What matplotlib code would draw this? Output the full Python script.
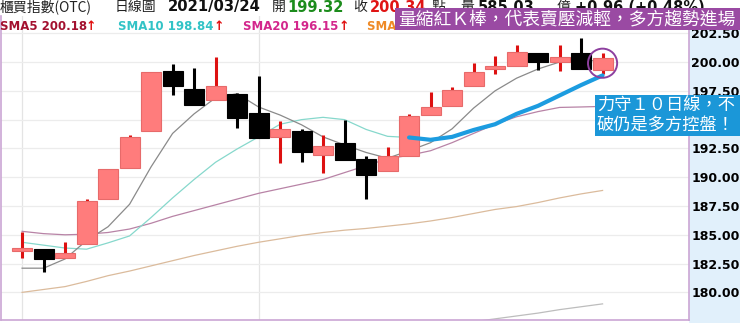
import matplotlib.pyplot as plt
from matplotlib.patches import Rectangle
import numpy as np

# Figure size in pixels
W, H = 740, 323

# Daily OHLC (index 0 .. 27, last bar = 2021/03/24)
opens = [183.6, 183.74, 183.0, 184.2, 188.1, 190.8, 194.0, 199.2, 197.7, 196.7,
         197.2, 195.6, 193.5, 194.0, 191.9, 193.0, 191.6, 190.5, 191.85, 195.4,
         196.2, 197.9, 199.4, 199.7, 200.8, 200.0, 200.8, 199.32]
highs = [185.2, 183.74, 184.35, 188.15, 190.7, 193.65, 199.1, 199.8, 199.5, 200.4,
         197.3, 198.8, 194.9, 194.2, 193.65, 195.0, 191.8, 192.6, 195.5, 197.4,
         197.8, 199.9, 200.55, 201.5, 200.8, 201.5, 202.06, 200.8]
lows = [183.0, 181.8, 183.0, 184.2, 188.1, 190.8, 194.0, 197.1, 196.3, 196.7,
        194.3, 193.4, 191.2, 191.3, 190.4, 191.5, 188.1, 190.5, 191.85, 195.4,
        196.2, 197.9, 199.0, 199.7, 199.3, 199.25, 199.4, 199.0]
closes = [183.7, 182.87, 183.4, 187.9, 190.7, 193.5, 199.1, 197.9, 196.3, 197.9,
          195.1, 193.4, 194.2, 192.15, 192.7, 191.5, 190.2, 191.8, 195.33, 196.06,
          197.6, 199.16, 199.5, 200.9, 200.0, 200.4, 199.4, 200.34]

# Moving average lines
sma5 = [182.1, 182.1, 182.9, 184.5, 185.7, 187.65, 190.9, 193.8, 195.5, 196.9,
        197.25, 196.1, 195.4, 194.55, 193.5, 192.8, 192.15, 191.65, 192.3, 193.0,
        194.2, 196.0, 197.5, 198.6, 199.4, 200.0, 200.05, 200.18]
sma10 = [184.35, 184.1, 183.85, 183.75, 184.3, 184.9, 186.5, 188.2, 189.8, 191.3,
         192.45, 193.5, 194.6, 195.0, 195.2, 195.0, 194.15, 193.55, 193.45, 193.25,
         193.5, 194.1, 194.6, 195.5, 196.2, 197.1, 198.0, 198.84]
sma20 = [185.3, 185.1, 185.0, 185.05, 185.2, 185.5, 186.0, 186.6, 187.1, 187.6,
         188.1, 188.6, 189.0, 189.4, 189.8, 190.4, 191.0, 191.6, 191.9, 192.3,
         193.0, 193.8, 194.6, 195.25, 195.7, 196.06, 196.1, 196.15]
sma60 = [180.0, 180.25, 180.5, 180.95, 181.45, 181.85, 182.3, 182.75, 183.2, 183.6,
         184.0, 184.35, 184.65, 184.95, 185.2, 185.4, 185.55, 185.75, 185.95, 186.2,
         186.5, 186.85, 187.2, 187.45, 187.8, 188.2, 188.55, 188.85]
sma120_start = 21
sma120 = [177.45, 177.7, 177.95, 178.2, 178.5, 178.75, 179.0]

y_ticks = [180.0, 182.5, 185.0, 187.5, 190.0, 192.5, 195.0, 197.5, 200.0, 202.5]
month_starts = [0, 11]

RED_FACE = "#ff7c7c"
RED_EDGE = "#e76a6a"
RED_WICK = "#dd1111"

fig = plt.figure(figsize=(W / 100, H / 100), dpi=100)

# light blue price column on the right (behind the axes)
fig.patches.append(Rectangle((689 / W, 0), 51 / W, 1 - 16 / H, transform=fig.transFigure,
                             facecolor="#e1f0fb", edgecolor="none", zorder=-1))

ax = fig.add_axes([1 / W, 3 / H, 688 / W, 304 / H])
x = np.arange(len(closes))

# grid
ax.set_axisbelow(True)
ax.set_yticks(y_ticks)
ax.yaxis.set_major_formatter(plt.FuncFormatter(lambda v, p: f"{v:.2f}"))
ax.grid(axis="y", color="#ececec", lw=0.9)
for m in month_starts:
    ax.axvline(m, color="#e4e4e4", lw=0.9, zorder=0)

# moving averages (under the candles)
ax.plot(x, sma60, color="#dbbb9c", lw=0.9, zorder=1.5)
ax.plot(x[sma120_start:], sma120, color="#bdbdbd", lw=0.9, zorder=1.5)
ax.plot(x, sma20, color="#b883a6", lw=0.9, zorder=1.6)
ax.plot(x, sma10, color="#86d8cc", lw=0.9, zorder=1.7)
ax.plot(x, sma5, color="#8a8a8a", lw=0.9, zorder=1.8)

# candles
up = np.array(closes) >= np.array(opens)
for i in range(len(closes)):
    lo_b = min(opens[i], closes[i])
    hi_b = max(opens[i], closes[i])
    h = max(hi_b - lo_b, 0.22)
    if up[i]:
        ax.vlines(i, lows[i], highs[i], color=RED_WICK, lw=2.2, zorder=2)
        ax.bar(i, h, bottom=lo_b, width=0.93, color=RED_FACE, edgecolor=RED_EDGE,
               lw=0.8, zorder=3)
    else:
        ax.vlines(i, lows[i], highs[i], color="black", lw=2.2, zorder=2)
        ax.bar(i, h, bottom=lo_b, width=0.93, color="black", edgecolor="black",
               lw=0.8, zorder=3)

# annotation: thick blue line along SMA10 and circle on last bar
ax.plot(x[18:], sma10[18:], color="#1c9ce0", lw=3.0, solid_capstyle="round", zorder=5)
ax.scatter([x[-1]], [(highs[-1] + lows[-1]) / 2], s=440, facecolors="none",
           edgecolors="#8d3f9f", linewidths=1.4, zorder=6)

ax.set_xlim(-0.98, 31.02)
ax.set_ylim(177.6, 204.0)
ax.set_xticks([])
ax.yaxis.tick_right()
ax.tick_params(axis="y", length=0, pad=1.5, labelsize=9, labelcolor="black")
for lab in ax.yaxis.get_ticklabels(which="major") + [t.label2 for t in ax.yaxis.get_major_ticks()]:
    lab.set_fontweight("bold")
for s in ["left", "right", "bottom"]:
    ax.spines[s].set_color("#cba6d4")
    ax.spines[s].set_linewidth(1.2)
ax.spines["top"].set_visible(False)

# header row 1
cjk = ["Noto Sans CJK TC", "DejaVu Sans"]


def top_text(px, py, s, **kw):
    fig.text(px / W, 1 - py / H, s, va="center", ha="left", **kw)


top_text(0, 7, "櫃買指數(OTC)", family=cjk, fontsize=10, color="#222222")
top_text(115, 7, "日線圖", family=cjk, fontsize=10, color="#222222")
top_text(168, 7, "2021/03/24", fontsize=10.6, fontweight="bold", color="#111111")
top_text(272, 7, "開", family=cjk, fontsize=10, color="#222222")
top_text(287, 7, "199.32", fontsize=10.5, fontweight="bold", color="#1c8c1c")
top_text(353, 7, "收", family=cjk, fontsize=10, color="#222222")
top_text(370, 7, "200.34", fontsize=10.5, fontweight="bold", color="#e01414")
top_text(432, 7, "點", family=cjk, fontsize=10, color="#222222")
top_text(460, 7, "量", family=cjk, fontsize=10, color="#222222")
top_text(478, 7, "585.03", fontsize=10.5, fontweight="bold", color="#111111")
top_text(557, 7, "億", family=cjk, fontsize=10, color="#222222")
top_text(575, 7, "+0.96 (+0.48%)", fontsize=10.5, fontweight="bold", color="#111111")

# header row 2: SMA legend
top_text(0, 26, f"SMA5 {sma5[-1]:.2f}", fontsize=8.5, fontweight="bold", color="#a3112f")
top_text(86, 26, "↑", fontsize=9, fontweight="bold", color="#e01010")
top_text(118, 26, f"SMA10 {sma10[-1]:.2f}", fontsize=8.5, fontweight="bold", color="#32c3c6")
top_text(214, 26, "↑", fontsize=9, fontweight="bold", color="#e01010")
top_text(243, 26, f"SMA20 {sma20[-1]:.2f}", fontsize=8.5, fontweight="bold", color="#d3268c")
top_text(339, 26, "↑", fontsize=9, fontweight="bold", color="#e01010")
top_text(367, 26, f"SMA60 {sma60[-1]:.2f}", fontsize=8.5, fontweight="bold", color="#ef8a26")

# purple banner
fig.patches.append(Rectangle((395 / W, 1 - 30 / H), 345 / W, 22 / H, transform=fig.transFigure,
                             facecolor="#9a4aa3", edgecolor="none", zorder=6))
fig.text(398 / W, 1 - 19 / H, "量縮紅Ｋ棒，代表賣壓減輕，多方趨勢進場", family=cjk,
         fontsize=12.8, color="white", va="center", ha="left", zorder=7)

# blue note box
fig.patches.append(Rectangle((595 / W, 1 - 136 / H), 145 / W, 41 / H, transform=fig.transFigure,
                             facecolor="#1b97d8", edgecolor="none", zorder=6))
fig.text(597 / W, 1 - 106 / H, "力守１０日線，不", family=cjk, fontsize=12.4,
         color="white", va="center", ha="left", zorder=7)
fig.text(597 / W, 1 - 126 / H, "破仍是多方控盤！", family=cjk, fontsize=12.4,
         color="white", va="center", ha="left", zorder=7)

fig.savefig("out.png", dpi=100)
